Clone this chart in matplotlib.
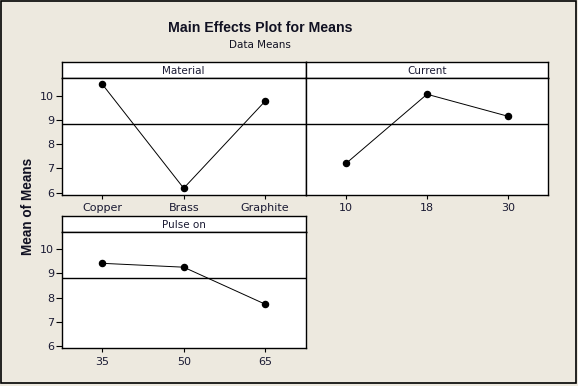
import matplotlib
matplotlib.use("Agg")
import matplotlib.pyplot as plt
from matplotlib.patches import Rectangle

# Data
material_levels = ["Copper", "Brass", "Graphite"]
material_means = [10.48, 6.18, 9.78]
current_levels = ["10", "18", "30"]
current_means = [7.21, 10.07, 9.16]
pulse_levels = ["35", "50", "65"]
pulse_means = [9.42, 9.26, 7.73]
grand_mean = 8.82
y_ticks = [6, 7, 8, 9, 10]

W, H = 578, 386
BG = "#EDE9DF"
plt.rcParams['font.family'] = ['DejaVu Sans']

fig = plt.figure(figsize=(W / 100, H / 100), dpi=100, facecolor=BG)

def px_axes(x0, y0, x1, y1):
    # pixel coords from top-left
    return fig.add_axes([x0 / W, 1 - y1 / H, (x1 - x0) / W, (y1 - y0) / H])

FS = 7.5

def panel(x0, x1, strip_top, plot_top, plot_bottom, title, levels, means, show_y):
    st = px_axes(x0, strip_top, x1, plot_top)
    st.set_facecolor("white")
    st.set_xticks([]); st.set_yticks([])
    for s in st.spines.values():
        s.set_linewidth(1.0)
    st.text(0.5, 0.45, title, ha="center", va="center", fontsize=FS, color="#1a1a33", transform=st.transAxes)

    ax = px_axes(x0, plot_top, x1, plot_bottom)
    ax.set_facecolor("white")
    xs = list(range(1, len(levels) + 1))
    ax.plot(xs, means, color="black", lw=0.7, marker="o", ms=4.4, mfc="black", mec="black")
    ax.axhline(grand_mean, color="black", lw=1.0)
    ax.set_xlim(0.5, 3.5)
    ax.set_ylim(5.9, 10.73)
    ax.set_xticks(xs)
    ax.set_xticklabels(levels, fontsize=FS + 0.5, color="#1a1a33")
    ax.tick_params(axis="x", length=3, width=0.8, pad=3)
    if show_y:
        ax.set_yticks(y_ticks)
        ax.set_yticklabels([str(t) for t in y_ticks], fontsize=FS + 0.5, color="#1a1a33")
        ax.tick_params(axis="y", length=4, width=0.8, pad=1.5)
    else:
        ax.set_yticks([])
    for s in ax.spines.values():
        s.set_linewidth(1.0)
    return ax

panel(61.7, 305.7, 61.7, 78.3, 195, "Material", material_levels, material_means, True)
panel(305.7, 548.3, 61.7, 78.3, 195, "Current", current_levels, current_means, False)
panel(61.7, 305.7, 216, 231.7, 348.3, "Pulse on", pulse_levels, pulse_means, True)

fig.text(260 / W, 1 - 27.5 / H, "Main Effects Plot for Means", ha="center", va="center",
         fontsize=10.2, fontweight="bold", color="#111122", family=["Liberation Sans"])
fig.text(260 / W, 1 - 45 / H, "Data Means", ha="center", va="center",
         fontsize=FS, color="#111122")
fig.text(28 / W, 1 - 206.5 / H, "Mean of Means", ha="center", va="center", rotation=90,
         fontsize=9.8, fontweight="bold", color="#111122", family=["Liberation Sans"])

fig.add_artist(Rectangle((0.5 / W, 1 - 382.5 / H), 575 / W, 381.5 / H, transform=fig.transFigure,
                         fill=False, edgecolor="black", lw=1.2))

fig.savefig("out.png", dpi=100, facecolor=BG)
